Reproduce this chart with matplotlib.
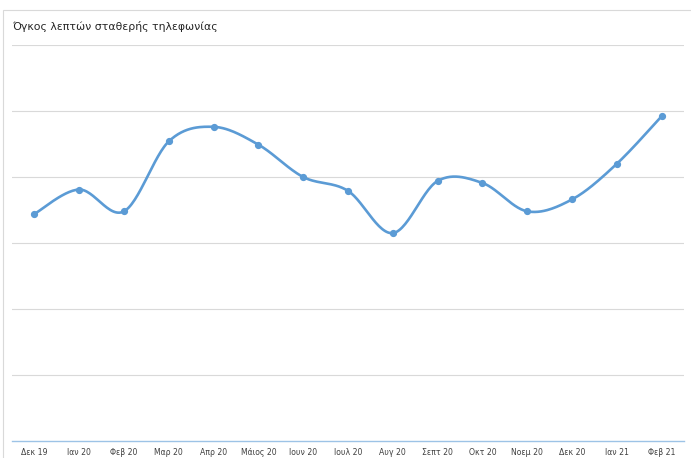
import numpy as np
import matplotlib
matplotlib.use('Agg')
import matplotlib.pyplot as plt
from matplotlib.patches import Rectangle

LINE_BLUE = '#5b9bd5'
GRID = '#d9d9d9'
TEXT = '#404040'

months = ['Δεκ 19', 'Ιαν 20', 'Φεβ 20', 'Μαρ 20', 'Απρ 20', 'Μάιος 20',
          'Ιουν 20', 'Ιουλ 20', 'Αυγ 20', 'Σεπτ 20', 'Οκτ 20', 'Νοεμ 20',
          'Δεκ 20', 'Ιαν 21', 'Φεβ 21']
# The y axis has no labels, so units are gridline steps.
minutes = [3.44, 3.81, 3.48, 4.54, 4.76, 4.49, 4.00, 3.79, 3.15, 3.94,
           3.91, 3.48, 3.66, 4.20, 4.92]


def smooth(x, y, n=30):
    # Excel-style smoothed line: Catmull-Rom Bezier through every point.
    x = np.asarray(x, float)
    y = np.asarray(y, float)
    px = np.concatenate([[x[0]], x, [x[-1]]])
    py = np.concatenate([[y[0]], y, [y[-1]]])
    xs, ys = [], []
    t = np.linspace(0, 1, n)
    for i in range(1, len(px) - 2):
        p0 = np.array([px[i], py[i]])
        p3 = np.array([px[i + 1], py[i + 1]])
        p1 = p0 + (np.array([px[i + 1], py[i + 1]]) - np.array([px[i - 1], py[i - 1]])) / 6
        p2 = p3 - (np.array([px[i + 2], py[i + 2]]) - np.array([px[i], py[i]])) / 6
        b = ((1 - t) ** 3)[:, None] * p0 + (3 * (1 - t) ** 2 * t)[:, None] * p1 \
            + (3 * (1 - t) * t ** 2)[:, None] * p2 + (t ** 3)[:, None] * p3
        xs.append(b[:, 0])
        ys.append(b[:, 1])
    return np.concatenate(xs), np.concatenate(ys)


fig = plt.figure(figsize=(6.91, 4.58), dpi=100)
fig.patches.append(Rectangle((3 / 691, -0.1), 1.2, 1 - 10 / 458 + 0.1,
                             transform=fig.transFigure, fill=False,
                             edgecolor=GRID, linewidth=0.8))

ax = fig.add_axes([12 / 691, 1 - 441 / 458, 672 / 691, 396 / 458])
x = np.arange(len(months))
sx, sy = smooth(x, minutes)
ax.plot(sx, sy, color=LINE_BLUE, linewidth=1.9, zorder=3, solid_capstyle='round')
ax.plot(x, minutes, 'o', color=LINE_BLUE, markersize=4.2, zorder=4)

ax.set_xlim(-0.5, len(months) - 0.5)
ax.set_ylim(0, 6)
ax.set_yticks(range(1, 7))
ax.yaxis.grid(True, color=GRID, linewidth=0.8)
ax.set_axisbelow(True)
ax.tick_params(axis='y', length=0, labelleft=False)
ax.set_xticks(x)
ax.set_xticklabels(months, fontsize=5.6, color=TEXT)
ax.tick_params(axis='x', length=0, pad=5)
for s in ('top', 'right', 'left'):
    ax.spines[s].set_visible(False)
ax.spines['bottom'].set_color('#9dc3e6')
ax.spines['bottom'].set_linewidth(1.0)

fig.text(12 / 691, 1 - 26 / 458, 'Όγκος λεπτών σταθερής τηλεφωνίας',
         fontsize=7.8, color='#262626', va='center', ha='left')

fig.savefig('out.png', dpi=100)
